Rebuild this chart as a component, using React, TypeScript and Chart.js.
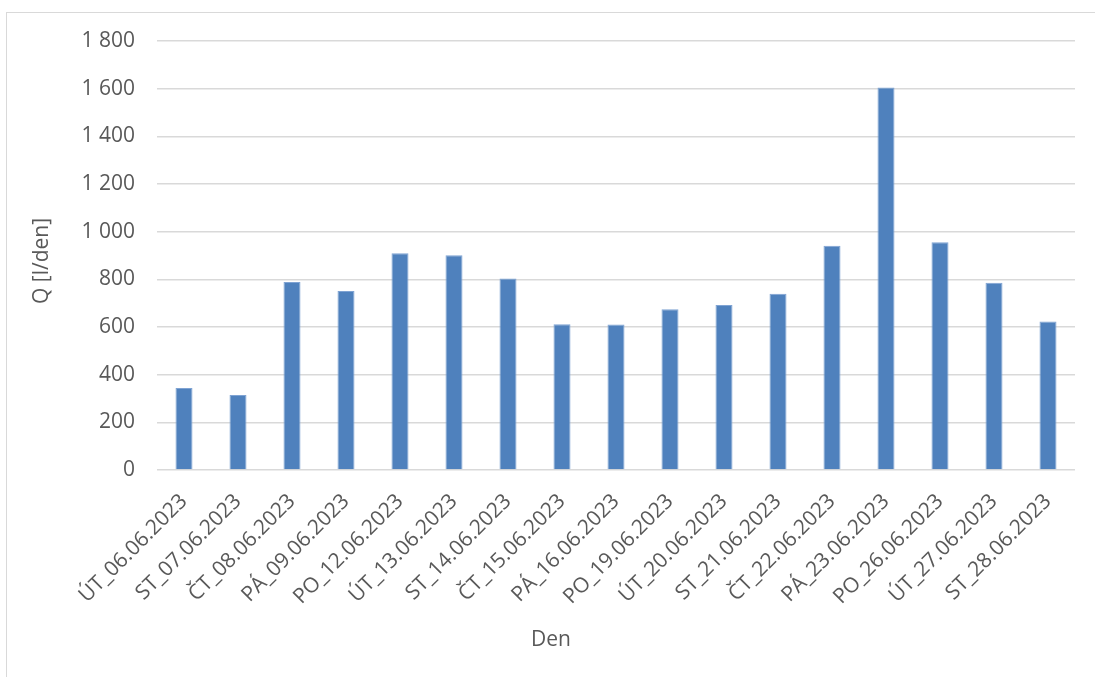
import React, { useEffect, useRef } from "react";
import { Chart, registerables } from "chart.js";

Chart.register(...registerables);

const categories = [
  "ÚT_06.06.2023",
  "ST_07.06.2023",
  "ČT_08.06.2023",
  "PÁ_09.06.2023",
  "PO_12.06.2023",
  "ÚT_13.06.2023",
  "ST_14.06.2023",
  "ČT_15.06.2023",
  "PÁ_16.06.2023",
  "PO_19.06.2023",
  "ÚT_20.06.2023",
  "ST_21.06.2023",
  "ČT_22.06.2023",
  "PÁ_23.06.2023",
  "PO_26.06.2023",
  "ÚT_27.06.2023",
  "ST_28.06.2023",
];

const flowValues = [344, 315, 789, 751, 909, 901, 804, 612, 611, 675, 692, 739, 941, 1605, 956, 786, 623];

const yMin = 0;
const yMax = 1800;
const yStep = 200;

const xTitle = "Den";
const yTitle = "Q [l/den]";

const FONT = "'Open Sans', 'Liberation Sans', sans-serif";
const TEXT_COLOR = "#595959";

function formatTick(v: number): string {
  const s = String(Math.round(v));
  return s.replace(/\B(?=(\d{3})+(?!\d))/g, " ");
}

const framePlugin = {
  id: "frame",
  beforeDraw(chart: any) {
    const ctx = chart.ctx;
    ctx.save();
    ctx.fillStyle = "#ffffff";
    ctx.fillRect(0, 0, chart.width, chart.height);
    ctx.strokeStyle = "#d9d9d9";
    ctx.lineWidth = 1;
    ctx.strokeRect(6.5, 12.5, 3000, 3000);
    ctx.restore();
  },
  afterDraw(chart: any) {
    const ctx = chart.ctx;
    ctx.save();
    ctx.fillStyle = TEXT_COLOR;
    ctx.font = `21px ${FONT}`;
    ctx.textAlign = "center";
    ctx.textBaseline = "middle";
    // x-axis title, centred on the whole chart frame (as Excel does)
    ctx.fillText(xTitle, (7 + chart.width) / 2, 640);
    // y-axis title, rotated
    ctx.translate(42, 261);
    ctx.rotate(-Math.PI / 2);
    ctx.fillText(yTitle, 0, 0);
    ctx.restore();
  },
};

export default function App() {
  const ref = useRef<HTMLCanvasElement | null>(null);

  useEffect(() => {
    if (!ref.current) return;
    const chart = new Chart(ref.current, {
      type: "bar",
      data: {
        labels: categories,
        datasets: [
          {
            data: flowValues,
            backgroundColor: "#4f81bd",
            borderColor: "#7fa3d3",
            borderWidth: 1,
            barPercentage: 0.315,
            categoryPercentage: 1,
          },
        ],
      },
      options: {
        animation: false,
        responsive: false,
        maintainAspectRatio: false,
        layout: { padding: { left: 0, top: 41, right: 20, bottom: 0 } },
        plugins: {
          legend: { display: false },
          tooltip: { enabled: false },
        },
        scales: {
          x: {
            grid: { display: false },
            border: { display: false },
            ticks: {
              maxRotation: 45,
              minRotation: 45,
              autoSkip: false,
              padding: 11,
              color: TEXT_COLOR,
              font: { family: FONT, size: 21 },
            },
            title: { display: false, text: xTitle },
            afterFit(scale: any) {
              scale.height = 207;
            },
          },
          y: {
            min: yMin,
            max: yMax,
            grid: { color: "#d9d9d9", lineWidth: 1.5, drawTicks: false },
            border: { display: false },
            ticks: {
              stepSize: yStep,
              padding: 22,
              color: TEXT_COLOR,
              font: { family: FONT, size: 21 },
              callback: (v: any) => formatTick(Number(v)),
            },
            title: { display: false, text: yTitle },
            afterFit(scale: any) {
              scale.width = 157;
            },
          },
        },
      },
      plugins: [framePlugin],
    });
    return () => chart.destroy();
  }, []);

  return (
    <div style={{ position: "absolute", left: 0, top: 0, width: 1095, height: 677 }}>
      <canvas ref={ref} width={1095} height={677} style={{ display: "block" }} />
    </div>
  );
}
